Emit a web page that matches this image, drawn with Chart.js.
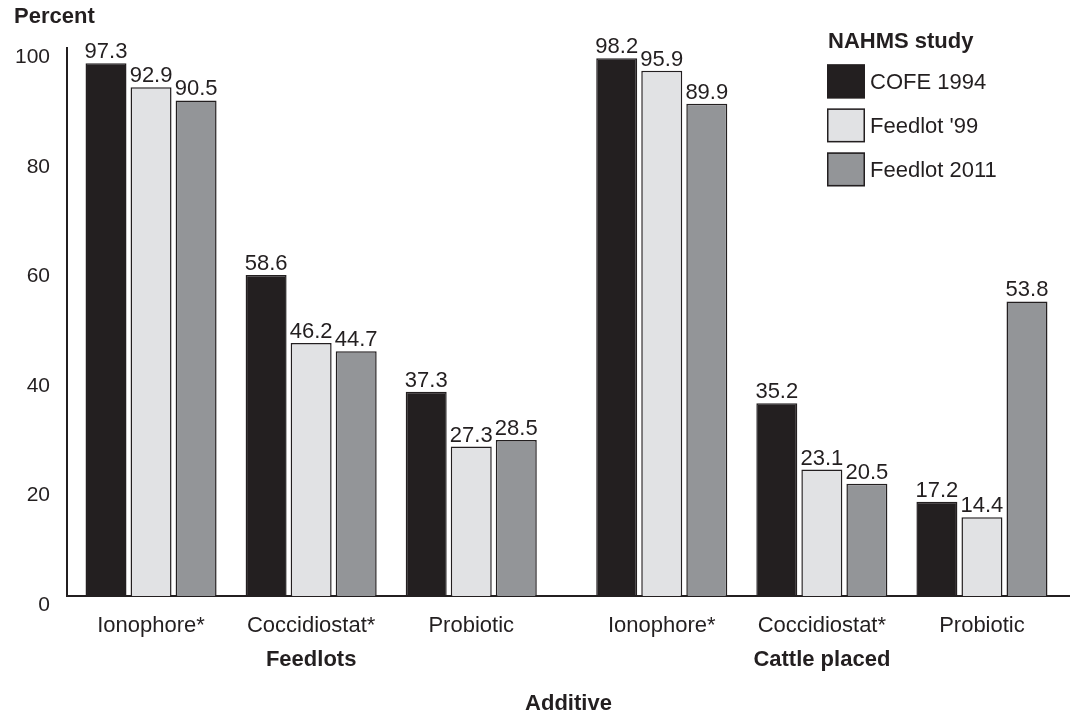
<!DOCTYPE html>
<html>
<head>
<meta charset="utf-8">
<title>Feed additives by NAHMS study</title>
<script src="https://cdn.jsdelivr.net/npm/chart.js@4/dist/chart.umd.min.js"></script>
<style>
  html, body { margin: 0; padding: 0; background: #ffffff; }
  #wrap { width: 1070px; height: 717px; }
</style>
</head>
<body>
<div id="wrap"><canvas id="chart" width="1070" height="717"></canvas></div>
<script>
// Additive categories, grouped by the unit of measure
const categories = ['Ionophore*', 'Coccidiostat*', 'Probiotic', 'Ionophore*', 'Coccidiostat*', 'Probiotic'];
const groups = ['Feedlots', 'Cattle placed'];
const groupMiddle = [1, 4];          // category index under which each group name sits
const studies = ['COFE 1994', "Feedlot '99", 'Feedlot 2011'];

// Percent of feedlots / cattle placed, per study
const cofe1994    = [97.3, 58.6, 37.3, 98.2, 35.2, 17.2];
const feedlot1999 = [92.9, 46.2, 27.3, 95.9, 23.1, 14.4];
const feedlot2011 = [90.5, 44.7, 28.5, 89.9, 20.5, 53.8];

const yTicks = [0, 20, 40, 60, 80, 100];

// Styling
const INK = '#231f20';
const FILLS = ['#231f20', '#e1e2e4', '#939598'];
const FONT = "'Liberation Sans', Arial, Helvetica, sans-serif";
const GROUP_GAP = 0.19;              // extra space between the two groups, in category units

Chart.defaults.font.family = FONT;
Chart.defaults.color = INK;

const slot = i => i + (i >= 3 ? GROUP_GAP : 0);
const toPoints = arr => arr.map((v, i) => ({ x: slot(i), y: v }));

const seriesValues = [cofe1994, feedlot1999, feedlot2011];

// Value printed above every bar
const valueLabels = {
  id: 'valueLabels',
  afterDatasetsDraw(chart) {
    const ctx = chart.ctx;
    ctx.save();
    ctx.font = '22px ' + FONT;
    ctx.fillStyle = INK;
    ctx.textAlign = 'center';
    ctx.textBaseline = 'alphabetic';
    chart.data.datasets.forEach((ds, di) => {
      const meta = chart.getDatasetMeta(di);
      meta.data.forEach((bar, i) => {
        const v = ds.data[i].y;
        ctx.fillText(v.toFixed(1), bar.x, bar.y - 5);
      });
    });
    ctx.restore();
  }
};

// Group names under the category labels
const groupLabels = {
  id: 'groupLabels',
  afterDraw(chart) {
    const ctx = chart.ctx;
    const x = chart.scales.x;
    ctx.save();
    ctx.font = 'bold 22px ' + FONT;
    ctx.fillStyle = INK;
    ctx.textAlign = 'center';
    ctx.textBaseline = 'alphabetic';
    groups.forEach((g, k) => {
      ctx.fillText(g, x.getPixelForValue(slot(groupMiddle[k])), chart.chartArea.bottom + 70);
    });
    ctx.restore();
  }
};

// Study key in the upper right of the plot
const studyKey = {
  id: 'studyKey',
  afterDraw(chart) {
    const ctx = chart.ctx;
    const area = chart.chartArea;
    const left = area.right - 243;
    const top = area.top;
    ctx.save();
    ctx.fillStyle = INK;
    ctx.textAlign = 'left';
    ctx.textBaseline = 'alphabetic';
    ctx.font = 'bold 22px ' + FONT;
    ctx.fillText('NAHMS study', left + 1, top);
    ctx.font = '22px ' + FONT;
    chart.data.datasets.forEach((ds, i) => {
      const by = top + 16 + i * 44;
      ctx.fillStyle = ds.backgroundColor;
      ctx.fillRect(left, by, 38, 34);
      ctx.strokeStyle = INK;
      ctx.lineWidth = 1.5;
      ctx.strokeRect(left + 0.75, by + 0.75, 36.5, 32.5);
      ctx.fillStyle = INK;
      ctx.fillText(ds.label, left + 43, by + 25);
    });
    ctx.restore();
  }
};

new Chart(document.getElementById('chart'), {
  type: 'bar',
  data: {
    datasets: studies.map((name, i) => ({
      label: name,
      data: toPoints(seriesValues[i]),
      backgroundColor: FILLS[i],
      borderColor: INK,
      borderWidth: 1.5,
      categoryPercentage: 0.844,
      barPercentage: 0.91
    }))
  },
  options: {
    responsive: false,
    animation: false,
    devicePixelRatio: 1,
    layout: { autoPadding: false, padding: { left: 14, right: 0, top: 0, bottom: 0 } },
    plugins: {
      legend: { display: false },
      tooltip: { enabled: false },
      title: {
        display: true,
        text: 'Percent',
        align: 'start',
        color: INK,
        font: { family: FONT, size: 22, weight: 'bold' },
        padding: { top: 4, bottom: 18 }
      }
    },
    scales: {
      x: {
        type: 'linear',
        bounds: 'data',
        min: -0.525,
        max: 5.74,
        offset: false,
        grid: { display: false, drawTicks: false },
        border: { display: true, color: INK, width: 2 },
        afterBuildTicks: axis => { axis.ticks = categories.map((_, i) => ({ value: slot(i) })); },
        afterFit: axis => { axis.height = 121; },
        ticks: {
          autoSkip: false,
          maxRotation: 0,
          padding: 17,
          color: INK,
          font: { family: FONT, size: 22 },
          callback: (value, index) => categories[index]
        },
        title: {
          display: true,
          text: 'Additive',
          color: INK,
          font: { family: FONT, size: 22, weight: 'bold' },
          padding: { top: 50, bottom: 0 }
        }
      },
      y: {
        min: 0,
        max: 100,
        grid: { display: false, drawTicks: false },
        border: { display: true, color: INK, width: 2 },
        afterBuildTicks: axis => { axis.ticks = yTicks.map(v => ({ value: v })); },
        afterFit: axis => { axis.width = 53; },
        ticks: {
          padding: 17,
          labelOffset: 9,
          color: INK,
          font: { family: FONT, size: 21 }
        }
      }
    }
  },
  plugins: [valueLabels, groupLabels, studyKey]
});
</script>
</body>
</html>
